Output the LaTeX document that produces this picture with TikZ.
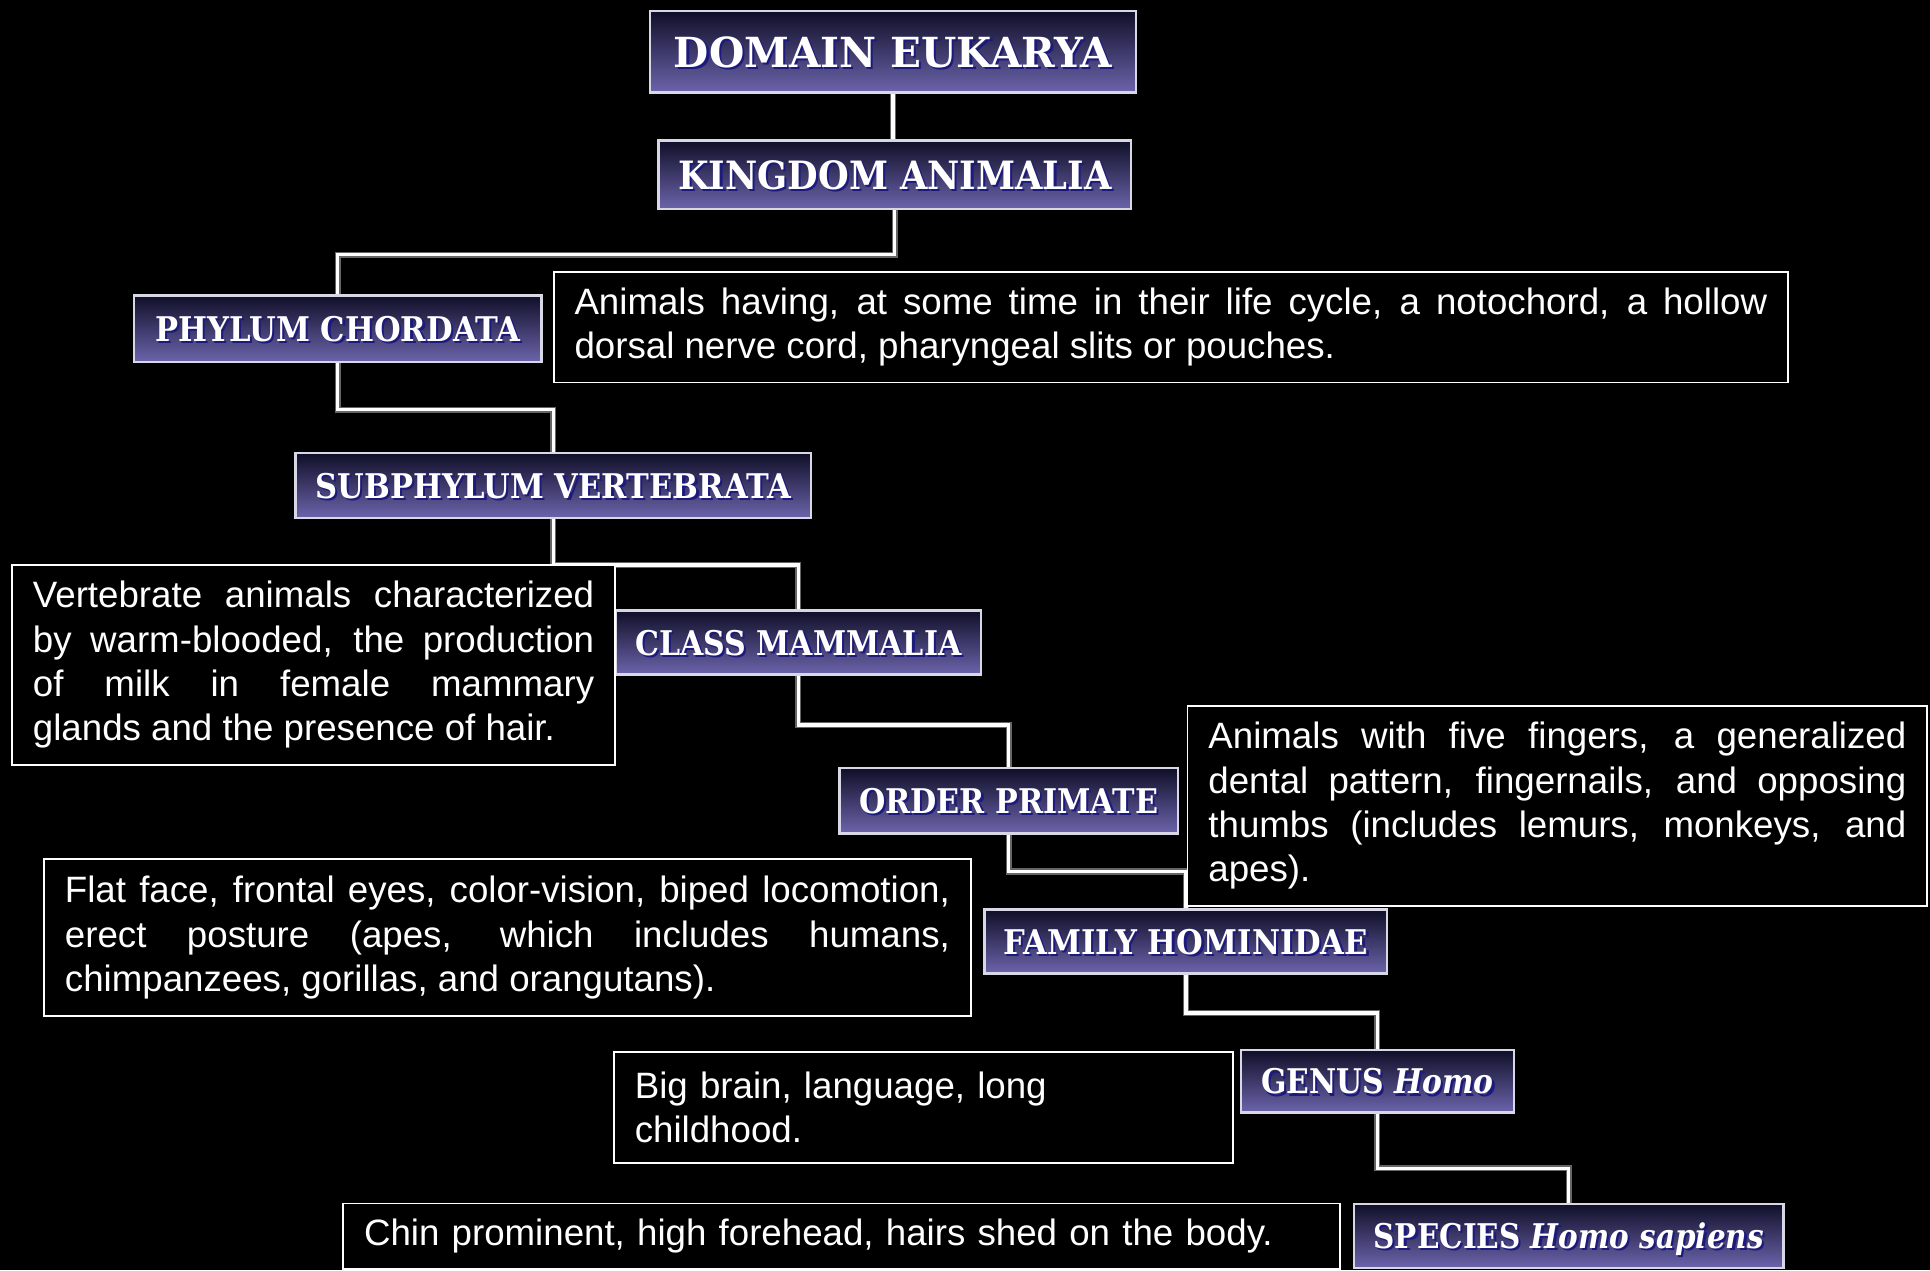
\documentclass[tikz,border=0pt]{standalone}
\usepackage{fontspec}
\setmainfont{Liberation Sans}
\newfontfamily\rankfont{DejaVu Serif}
\usepackage{graphicx}
\definecolor{rtop}{RGB}{16,15,40}
\definecolor{rbot}{RGB}{108,100,172}
\definecolor{shadowblue}{RGB}{28,26,125}
\definecolor{rborder}{RGB}{215,215,230}
\newcommand{\shd}[1]{\rlap{\kern1.8pt\raisebox{-1.8pt}{\color{shadowblue}#1}}#1}
\newcommand{\rk}[3]{\raisebox{0pt}[\height][0pt]{\shd{\resizebox{#1}{#2}{\rankfont\bfseries #3}}}}
\hyphenpenalty=10000
\exhyphenpenalty=10000
\begin{document}
\begin{tikzpicture}[x=1pt,y=-1pt,
  rank/.style={draw=rborder, line width=2pt, top color=rtop, bottom color=rbot, inner sep=0pt, text=white},
  desc/.style={draw=white, line width=1.5pt, fill=black, text=white, inner xsep=17pt, inner ysep=0pt,
    align=justify, font=\fontsize{29.8}{36}\selectfont, anchor=north west},
  conn/.style={draw=white, line width=2.6pt, preaction={draw=white!40!black, line width=5pt}}]
\useasboundingbox (0,0) rectangle (1568,1032);
\fill[black] (0,0) rectangle (1568,1032);

% rank boxes
\node[rank, minimum width=395pt, minimum height=66pt] (dom) at (725.5,42) {\rk{356pt}{25pt}{DOMAIN EUKARYA}};
\node[rank, minimum width=384pt, minimum height=56pt] (kin) at (727,142) {\rk{352pt}{23.5pt}{KINGDOM ANIMALIA}};
\node[rank, minimum width=331pt, minimum height=54pt] (phy) at (274.5,267) {\rk{296pt}{20.5pt}{PHYLUM CHORDATA}};
\node[rank, minimum width=419pt, minimum height=53pt] (sub) at (449.5,394.5) {\rk{386pt}{20.5pt}{SUBPHYLUM VERTEBRATA}};
\node[rank, minimum width=297pt, minimum height=52pt] (cla) at (648.5,522) {\rk{265pt}{20.5pt}{CLASS MAMMALIA}};
\node[rank, minimum width=275pt, minimum height=53pt] (ord) at (819.5,650.5) {\rk{243pt}{20.5pt}{ORDER PRIMATE}};
\node[rank, minimum width=327pt, minimum height=52pt] (fam) at (963.5,765) {\rk{296pt}{20.5pt}{FAMILY HOMINIDAE}};
\node[rank, minimum width=222pt, minimum height=51pt] (gen) at (1119,878.5) {\rk{189pt}{20.5pt}{GENUS \itshape Homo}};
\node[rank, minimum width=349pt, minimum height=52pt] (spe) at (1274.5,1004) {\rk{317pt}{21pt}{SPECIES \itshape Homo sapiens}};

% connectors
\draw[conn] (dom.south) -- (dom.south |- kin.north);
\draw[conn] (kin.south) -- ++(0,36) -| (phy.north);
\draw[conn] (phy.south) -- ++(0,38) -| (sub.north);
\draw[conn] (sub.south) -- ++(0,37) -| (cla.north);
\draw[conn] (cla.south) -- ++(0,40) -| (ord.north);
\draw[conn] (ord.south) -- ++(0,30) -| (fam.north);
\draw[conn] (fam.south) -- ++(0,31) -| (gen.north);
\draw[conn] (gen.south) -- ++(0,44) -| (spe.north);

% description boxes
\node[desc, text width=969pt, minimum height=90pt] (da) at (449,220)
  {Animals having, at some time in their life cycle, a notochord, a hollow\linebreak dorsal nerve cord, pharyngeal slits or pouches.};
\node[desc, text width=456pt, minimum height=163pt] (db) at (9,458)
  {Vertebrate animals characterized\linebreak by warm-blooded, the production\linebreak of milk in female mammary\linebreak glands and the presence of hair.};
\node[desc, text width=567pt, minimum height=162pt] (dc) at (964,573)
  {Animals with five fingers, a generalized\linebreak dental pattern, fingernails, and opposing\linebreak thumbs (includes lemurs, monkeys, and\linebreak apes).};
\node[desc, text width=719pt, minimum height=128pt] (dd) at (35,697)
  {Flat face, frontal eyes, color-vision, biped locomotion,\linebreak erect posture (apes, which includes humans,\linebreak chimpanzees, gorillas, and orangutans).};
\node[desc, align=left, text width=469pt, minimum height=90pt] (de) at (498,854)
  {Big brain, language, long\\childhood.};
\node[desc, align=left, text width=776pt, minimum height=53pt] (df) at (278,977)
  {Chin prominent, high forehead, hairs shed on the body.};
\end{tikzpicture}
\end{document}
